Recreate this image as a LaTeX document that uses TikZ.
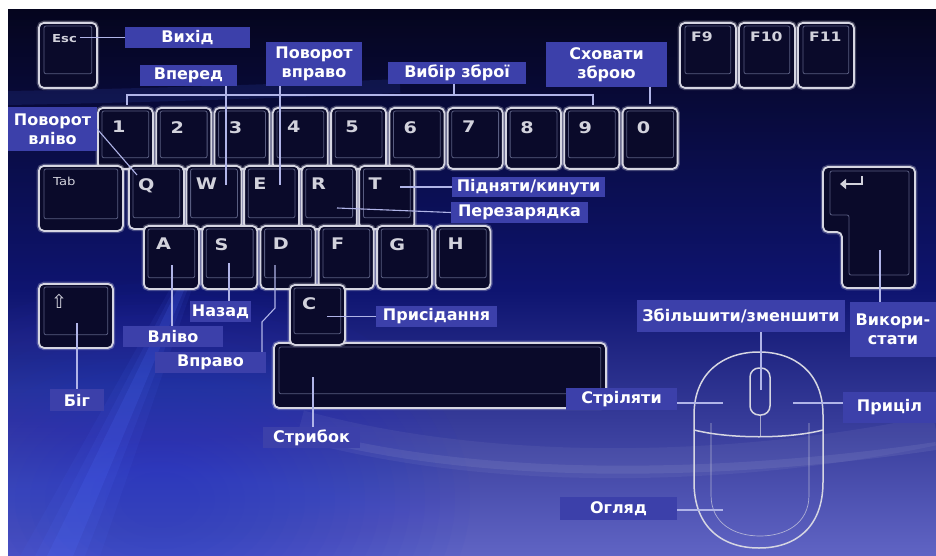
\documentclass[tikz,border=0pt]{standalone}
\usepackage{fontspec}
\setmainfont{DejaVu Sans}
\newfontfamily\capfont[FakeStretch=1.2]{DejaVu Sans}
\usetikzlibrary{arrows.meta}

\definecolor{bgtop}{RGB}{5,5,30}
\definecolor{bgmid}{RGB}{14,20,112}
\definecolor{bgbot}{RGB}{96,100,196}
\definecolor{bgblue}{RGB}{30,50,215}
\definecolor{keyrim}{RGB}{214,214,226}
\definecolor{keyface}{RGB}{10,10,42}
\definecolor{keyline}{RGB}{88,92,128}
\definecolor{keyink}{RGB}{210,210,220}
\definecolor{tagblue}{RGB}{60,64,170}
\definecolor{wirecol}{RGB}{176,180,232}
\definecolor{beam}{RGB}{80,110,255}

\tikzstyle{keycap}=[draw=keyrim,line width=1.8pt,rounded corners=5pt,fill=keyface,anchor=north west,inner sep=0pt,preaction={draw=keyrim,line width=4.5pt,draw opacity=0.3}]
\tikzstyle{keyin}=[draw=keyline,line width=0.8pt,rounded corners=2pt]
\tikzstyle{keyglyph}=[text=keyink,font=\capfont\bfseries\fontsize{16}{16}\selectfont,anchor=north west,inner sep=0pt]
\tikzstyle{smallglyph}=[text=keyink,font=\capfont\bfseries\fontsize{11}{11}\selectfont,anchor=north west,inner sep=0pt]
\tikzstyle{tag}=[fill=tagblue,text=white,font=\bfseries\fontsize{16}{19}\selectfont,align=center,inner sep=0pt]
\tikzstyle{wire}=[draw=wirecol,line width=1.1pt]
\tikzstyle{mouseline}=[draw=keyrim,line width=1.5pt]

\begin{document}
\begin{tikzpicture}[x=1pt,y=-1pt]
    \useasboundingbox (0,0) rectangle (936,556);
    % backdrop
    \fill[white] (0,0) rectangle (936,556);
    \shade[top color=bgtop,bottom color=bgmid] (8,10) rectangle (936,290);
    \shade[top color=bgmid,bottom color=bgbot] (8,290) rectangle (936,556);
    \begin{scope}
        \clip (8,10) rectangle (936,556);
        % soft blue glow low on the left
        \foreach \r in {40,55,...,310}
        \fill[bgblue,opacity=0.035] (160,500) ellipse ({\r} and {0.7*\r});
        \foreach \w/\o in {80/0.08,50/0.10,26/0.16}
        \fill[beam,opacity=\o] ({60-\w/2},556) -- ({60+\w/2},556) -- ({185+\w/8},280) -- ({185-\w/8},280) -- cycle;
        \draw[beam,opacity=0.12,line width=14pt] (8,98) .. controls (120,96) and (260,92) .. (400,86);
        \draw[white,opacity=0.05,line width=30pt] (300,425) .. controls (500,480) and (750,470) .. (936,430);
        \draw[white,opacity=0.07,line width=8pt] (330,440) .. controls (520,485) and (760,472) .. (936,446);
    \end{scope}

    % function keys
    \node[keycap,minimum width=58pt,minimum height=65pt] (kesc) at (38,22) {};
    \draw[keyin] ([shift={(6,4)}]kesc.north west) rectangle ([shift={(-6,-15)}]kesc.south east);
    \node[smallglyph] at ([shift={(14,12)}]kesc.north west) {Esc};
    \foreach \k/\x in {F9/679,F10/738,F11/797} {
        \node[keycap,minimum width=56pt,minimum height=65pt] (k\k) at (\x,22) {};
        \draw[keyin] ([shift={(6,4)}]k\k.north west) rectangle ([shift={(-6,-15)}]k\k.south east);
        \node[smallglyph,font=\capfont\bfseries\fontsize{13}{13}\selectfont] at ([shift={(12,10)}]k\k.north west) {\k};
    }

    % number row
    \foreach \k [count=\i from 0] in {1,2,3,4,5,6,7,8,9,0} {
        \node[keycap,minimum width=55pt,minimum height=61pt] (k\k) at ({97+58.3*\i},107) {};
        \draw[keyin] ([shift={(5,4)}]k\k.north west) rectangle ([shift={(-5,-12)}]k\k.south east);
        \node[keyglyph] at ([shift={(15,14)}]k\k.north west) {\k};
    }

    % top letter row
    \node[keycap,minimum width=84pt,minimum height=65pt] (ktab) at (38,165) {};
    \draw[keyin] ([shift={(6,4)}]ktab.north west) rectangle ([shift={(-6,-13)}]ktab.south east);
    \node[smallglyph,font=\capfont\fontsize{11}{11}\selectfont] at ([shift={(15,12)}]ktab.north west) {Tab};
    \foreach \k [count=\i from 0] in {Q,W,E,R,T} {
        \node[keycap,minimum width=55pt,minimum height=63pt] (k\k) at ({128+57.6*\i},165) {};
        \draw[keyin] ([shift={(5,4)}]k\k.north west) rectangle ([shift={(-5,-12)}]k\k.south east);
        \node[keyglyph] at ([shift={(10,13)}]k\k.north west) {\k};
    }

    % home row
    \foreach \k [count=\i from 0] in {A,S,D,F,G,H} {
        \node[keycap,minimum width=55pt,minimum height=63pt] (k\k) at ({143+58.3*\i},225) {};
        \draw[keyin] ([shift={(5,4)}]k\k.north west) rectangle ([shift={(-5,-12)}]k\k.south east);
        \node[keyglyph] at ([shift={(13,13)}]k\k.north west) {\k};
    }

    % shift, space, C
    \node[keycap,minimum width=74pt,minimum height=64pt] (kshift) at (38,283) {};
    \draw[keyin] ([shift={(6,4)}]kshift.north west) rectangle ([shift={(-6,-14)}]kshift.south east);
    \node[text=keyink,font=\fontsize{19}{19}\selectfont,anchor=north west,inner sep=0pt] at ([shift={(13,11)}]kshift.north west) {⇧};
    \node[keycap,minimum width=332pt,minimum height=65pt] (kspace) at (273,342) {};
    \draw[keyin] ([shift={(6,5)}]kspace.north west) rectangle ([shift={(-6,-15)}]kspace.south east);
    \node[keycap,minimum width=55pt,minimum height=60pt] (kC) at (289,284) {};
    \draw[keyin] ([shift={(5,4)}]kC.north west) rectangle ([shift={(-5,-12)}]kC.south east);
    \node[keyglyph] at ([shift={(13,13)}]kC.north west) {C};

    % enter
    \draw[draw=keyrim,line width=4.5pt,draw opacity=0.3,rounded corners=5pt] (823,167) -- (915,167) -- (915,288) -- (842,288) -- (842,232) -- (823,232) -- cycle;
    \draw[draw=keyrim,line width=1.8pt,fill=keyface,rounded corners=5pt] (823,167) -- (915,167) -- (915,288) -- (842,288) -- (842,232) -- (823,232) -- cycle;
    \draw[keyin] (830,171) -- (909,171) -- (909,275) -- (849,275) -- (849,215) -- (830,215) -- cycle;
    \draw[keyink,line width=2.6pt,-{Triangle[length=6pt,width=10pt]}] (862,176) -- (862,184) -- (840,184);

    % mouse
    \draw[mouseline] (694,415) .. controls (694,372) and (724,352) .. (759,352) .. controls (794,352) and (823,372) .. (823,415) -- (823,482) .. controls (823,528) and (795,548) .. (759,548) .. controls (723,548) and (694,528) .. (694,482) -- cycle;
    \draw[mouseline] (694,430) .. controls (730,439) and (788,439) .. (823,430);
    \draw[draw=keyrim,line width=0.7pt,opacity=0.7] (711,423) -- (711,495) .. controls (711,524) and (735,536) .. (760,536) .. controls (785,536) and (809,524) .. (809,495) -- (809,423);
    \draw[draw=keyrim,line width=0.7pt,opacity=0.7] (760,415) -- (760,437);
    \node[draw=keyrim,line width=1.5pt,rounded corners=9pt,minimum width=20pt,minimum height=47pt,inner sep=0pt] (wheel) at (760,391.5) {};

    % labels
    \node[tag,minimum width=125pt,minimum height=21pt] (exit) at (187.5,37.5) {Вихід};
    \node[tag,minimum width=97pt,minimum height=21pt] (fwd) at (188.5,75.5) {Вперед};
    \node[tag,minimum width=96pt,minimum height=44pt] (turnr) at (314,64) {Поворот\\вправо};
    \node[tag,minimum width=138pt,minimum height=22pt] (weapon) at (457,73) {Вибір зброї};
    \node[tag,minimum width=121pt,minimum height=45pt] (hide) at (606.5,64.5) {Сховати\\зброю};
    \node[tag,minimum width=89pt,minimum height=44pt] (turnl) at (52.5,129) {Поворот\\вліво};
    \node[tag,minimum width=153pt,minimum height=20pt] (pick) at (528.5,187) {Підняти/кинути};
    \node[tag,minimum width=137pt,minimum height=21pt] (reload) at (519.5,212.5) {Перезарядка};
    \node[tag,minimum width=121pt,minimum height=21pt] (crouch) at (436.5,316.5) {Присідання};
    \node[tag,minimum width=97pt,minimum height=21pt] (jump) at (311.5,437.5) {Стрибок};
    \node[tag,minimum width=61pt,minimum height=21pt] (back) at (220.5,311.5) {Назад};
    \node[tag,minimum width=100pt,minimum height=21pt] (left) at (173,336.5) {Вліво};
    \node[tag,minimum width=111pt,minimum height=21pt] (right) at (210.5,362.5) {Вправо};
    \node[tag,minimum width=54pt,minimum height=22pt] (run) at (77,400) {Біг};
    \node[tag,minimum width=208pt,minimum height=32pt] (zoom) at (741,316) {Збільшити/зменшити};
    \node[tag,minimum width=86pt,minimum height=55pt] (use) at (893,329.5) {Викори-\\стати};
    \node[tag,minimum width=93pt,minimum height=31pt] (aim) at (889.5,407.5) {Приціл};
    \node[tag,minimum width=111pt,minimum height=22pt] (fire) at (621.5,399) {Стріляти};
    \node[tag,minimum width=117pt,minimum height=23pt] (look) at (618.5,508.5) {Огляд};

    % pins on the keys and the mouse
    \coordinate (escpin) at (80,37.5);
    \coordinate (qpin) at (137,175);
    \coordinate (wpin) at (226,185);
    \coordinate (epin) at (280,185);
    \coordinate (rpin) at (337,208);
    \coordinate (tpin) at (400,187);
    \coordinate (onepin) at (127,105);
    \coordinate (ninepin) at (593,105);
    \coordinate (bracket) at (454,95);
    \coordinate (zeropin) at (650,104);
    \coordinate (apin) at (172,265);
    \coordinate (spin) at (229,263);
    \coordinate (dpin) at (275,265);
    \coordinate (dbenda) at (275,308);
    \coordinate (dbendb) at (262,322);
    \coordinate (cpin) at (327,316.5);
    \coordinate (spacepin) at (313,377);
    \coordinate (shiftpin) at (77,323);
    \coordinate (enterpin) at (880,250);
    \coordinate (wheelpin) at (761,390);
    \coordinate (lbpin) at (723,403);
    \coordinate (rbpin) at (793,403);
    \coordinate (bodypin) at (723,510);

    \foreach \from/\to in {escpin/exit.west,qpin/turnl.east,tpin/pick.west,rpin/reload.west,cpin/crouch.west}
    \draw[wire] (\from) -- (\to);
    \draw[wire] (wpin) -- (wpin |- fwd.south);
    \draw[wire] (epin) -- (epin |- turnr.south);
    \draw[wire] (zeropin) -- (zeropin |- hide.south);
    \draw[wire] (onepin) -- (onepin |- bracket) -- (ninepin |- bracket) -- (ninepin);
    \draw[wire] (bracket) -- (bracket |- weapon.south);
    \draw[wire] (apin) -- (apin |- left.north);
    \draw[wire] (spin) -- (spin |- back.north);
    \draw[wire] (dpin) -- (dbenda) -- (dbendb) -- (dbendb |- right.north);
    \draw[wire] (spacepin) -- (spacepin |- jump.north);
    \draw[wire] (shiftpin) -- (shiftpin |- run.north);
    \draw[wire] (enterpin) -- (enterpin |- use.north);
    \draw[wire] (wheelpin) -- (wheelpin |- zoom.south);
    \draw[wire] (lbpin) -- (fire.east |- lbpin);
    \draw[wire] (rbpin) -- (aim.west |- rbpin);
    \draw[wire] (bodypin) -- (look.east |- bodypin);
\end{tikzpicture}
\end{document}
